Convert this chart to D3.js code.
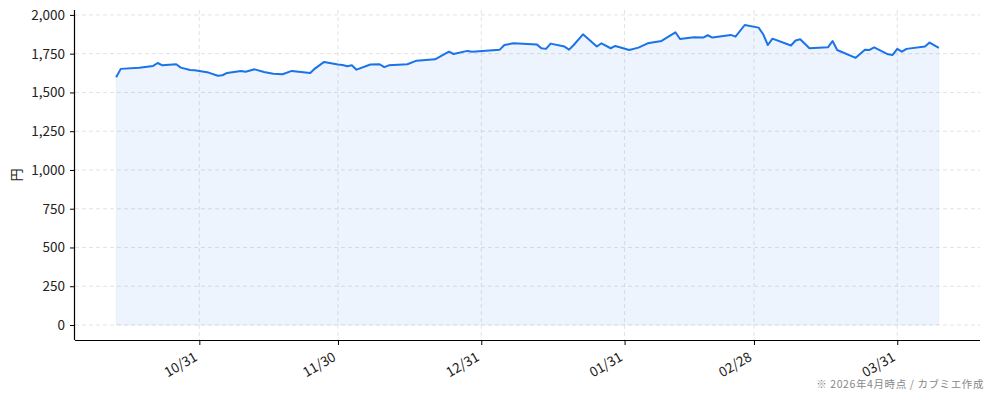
<!DOCTYPE html>
<html>
<head>
<meta charset="utf-8">
<script src="https://cdn.jsdelivr.net/npm/d3@7"></script>
<style>
  body { margin: 0; background: #fff; }
  svg { display: block; font-family: "Noto Sans CJK JP", "Noto Sans", sans-serif; }
</style>
</head>
<body>
<div class="chart"></div>
<script>
// price series
const dates = [
  "2025-10-13", "2025-10-14", "2025-10-18", "2025-10-21", "2025-10-22", "2025-10-23",
  "2025-10-26", "2025-10-27", "2025-10-29", "2025-10-30", "2025-11-02", "2025-11-04",
  "2025-11-05", "2025-11-06", "2025-11-09", "2025-11-10", "2025-11-12", "2025-11-14",
  "2025-11-16", "2025-11-18", "2025-11-20", "2025-11-24", "2025-11-25", "2025-11-27",
  "2025-11-30", "2025-12-01", "2025-12-02", "2025-12-03", "2025-12-04", "2025-12-07",
  "2025-12-09", "2025-12-10", "2025-12-11", "2025-12-15", "2025-12-17", "2025-12-21",
  "2025-12-24", "2025-12-25", "2025-12-28", "2025-12-29", "2026-01-04", "2026-01-05",
  "2026-01-07", "2026-01-12", "2026-01-13", "2026-01-14", "2026-01-15", "2026-01-18",
  "2026-01-19", "2026-01-20", "2026-01-22", "2026-01-25", "2026-01-26", "2026-01-28",
  "2026-01-29", "2026-02-01", "2026-02-03", "2026-02-05", "2026-02-08", "2026-02-11",
  "2026-02-12", "2026-02-15", "2026-02-17", "2026-02-18", "2026-02-19", "2026-02-23",
  "2026-02-24", "2026-02-26", "2026-03-01", "2026-03-02", "2026-03-03", "2026-03-04",
  "2026-03-08", "2026-03-09", "2026-03-10", "2026-03-12", "2026-03-16", "2026-03-17",
  "2026-03-18", "2026-03-22", "2026-03-24", "2026-03-25", "2026-03-26", "2026-03-29",
  "2026-03-30", "2026-03-31", "2026-04-01", "2026-04-02", "2026-04-06", "2026-04-07",
  "2026-04-09"
];
const prices = [
  1598, 1652, 1660, 1671, 1690, 1675,
  1682, 1660, 1645, 1643, 1628, 1608,
  1611, 1626, 1639, 1634, 1649, 1632,
  1621, 1617, 1639, 1626, 1654, 1697,
  1680, 1677, 1669, 1675, 1647, 1680,
  1682, 1663, 1675, 1682, 1705, 1714,
  1763, 1748, 1768, 1763, 1776, 1806,
  1817, 1810, 1785, 1781, 1815, 1796,
  1776, 1806, 1875, 1796, 1817, 1785,
  1800, 1774, 1789, 1817, 1832, 1888,
  1845, 1856, 1854, 1869, 1854, 1871,
  1860, 1935, 1918, 1875, 1806, 1847,
  1803, 1835, 1843, 1785, 1791, 1832,
  1774, 1723, 1776, 1774, 1791, 1746,
  1742, 1781, 1763, 1781, 1796, 1822,
  1787
];
const xTickDates = ["2025-10-31", "2025-11-30", "2025-12-31", "2026-01-31", "2026-02-28", "2026-03-31"];
const yTicks = [0, 250, 500, 750, 1000, 1250, 1500, 1750, 2000];
const yLabel = "円";
const footnote = "※ 2026年4月時点 / カブミエ作成";

const width = 994;
const height = 400;
const margin = { top: 10, right: 14, bottom: 60, left: 75 };
const innerWidth = width - margin.left - margin.right;
const innerHeight = height - margin.top - margin.bottom;

const parse = d3.timeParse("%Y-%m-%d");
const data = dates.map((d, i) => ({ date: parse(d), price: prices[i] }));

// 5% padding on both axes, like the original plot
const xExt = d3.extent(data, d => d.date);
const xPad = (xExt[1] - xExt[0]) * 0.05;
const x = d3.scaleTime()
  .domain([new Date(+xExt[0] - xPad), new Date(+xExt[1] + xPad)])
  .range([0, innerWidth]);

const yMax = d3.max(prices);
const yPad = yMax * 0.05;
const y = d3.scaleLinear()
  .domain([-yPad, yMax + yPad])
  .range([innerHeight, 0]);

let svg = d3.select(".chart")
  .append("svg")
  .attr("width", width)
  .attr("height", height);

let g = svg.append("g")
  .attr("transform", `translate(${margin.left},${margin.top})`);

// grid
g.append("g")
  .selectAll("line")
  .data(yTicks)
  .join("line")
  .attr("x1", 0)
  .attr("x2", innerWidth)
  .attr("y1", d => y(d))
  .attr("y2", d => y(d))
  .attr("stroke", "#dcdcdc")
  .attr("stroke-width", 0.8)
  .attr("stroke-dasharray", "4,3");

g.append("g")
  .selectAll("line")
  .data(xTickDates.map(parse))
  .join("line")
  .attr("x1", d => x(d))
  .attr("x2", d => x(d))
  .attr("y1", 0)
  .attr("y2", innerHeight)
  .attr("stroke", "#dcdcdc")
  .attr("stroke-width", 0.8)
  .attr("stroke-dasharray", "4,3");

// area + line
const area = d3.area()
  .x(d => x(d.date))
  .y0(y(0))
  .y1(d => y(d.price));

g.append("path")
  .datum(data)
  .attr("d", area)
  .attr("fill", "#1a73e8")
  .attr("fill-opacity", 0.08)
  .attr("stroke", "#1a73e8")
  .attr("stroke-opacity", 0.05)
  .attr("stroke-width", 1);

const line = d3.line()
  .x(d => x(d.date))
  .y(d => y(d.price));

g.append("path")
  .datum(data)
  .attr("d", line)
  .attr("fill", "none")
  .attr("stroke", "#1a73e8")
  .attr("stroke-width", 2)
  .attr("stroke-linejoin", "round");

// axes
const yAxis = g.append("g")
  .call(d3.axisLeft(y).tickValues(yTicks).tickSize(5).tickPadding(5).tickFormat(d3.format(",")));

const xAxis = g.append("g")
  .attr("transform", `translate(0,${innerHeight})`)
  .call(d3.axisBottom(x).tickValues(xTickDates.map(parse)).tickSize(5).tickPadding(5).tickFormat(d3.timeFormat("%m/%d")));

xAxis.select(".domain").attr("d", `M0,0.5H${innerWidth}`);
yAxis.select(".domain").attr("d", `M-0.5,0V${innerHeight}`);

[xAxis, yAxis].forEach(a => {
  a.selectAll(".domain").attr("stroke", "#000").attr("stroke-width", 1.2);
  a.selectAll(".tick line").attr("stroke", "#000").attr("stroke-width", 1);
  a.selectAll(".tick text")
    .attr("fill", "#222")
    .style("font-size", "13.5px")
    .style("font-family", "'Noto Sans CJK JP', sans-serif");
});

// rotated date labels, top-right corner just under the tick
xAxis.selectAll(".tick text")
  .attr("text-anchor", "end")
  .attr("dy", "0.35em")
  .attr("transform", "translate(-9,7) rotate(-30)");

// y label
svg.append("text")
  .attr("transform", `translate(17,${margin.top + innerHeight / 2}) rotate(-90)`)
  .attr("text-anchor", "middle")
  .attr("dominant-baseline", "middle")
  .attr("fill", "#222")
  .style("font-size", "13px")
  .text(yLabel);

// footnote
svg.append("text")
  .attr("x", 984)
  .attr("y", 388)
  .attr("text-anchor", "end")
  .attr("fill", "#888")
  .style("font-size", "10.5px")
  .style("letter-spacing", "0.6px")
  .text(footnote);
</script>
</body>
</html>
